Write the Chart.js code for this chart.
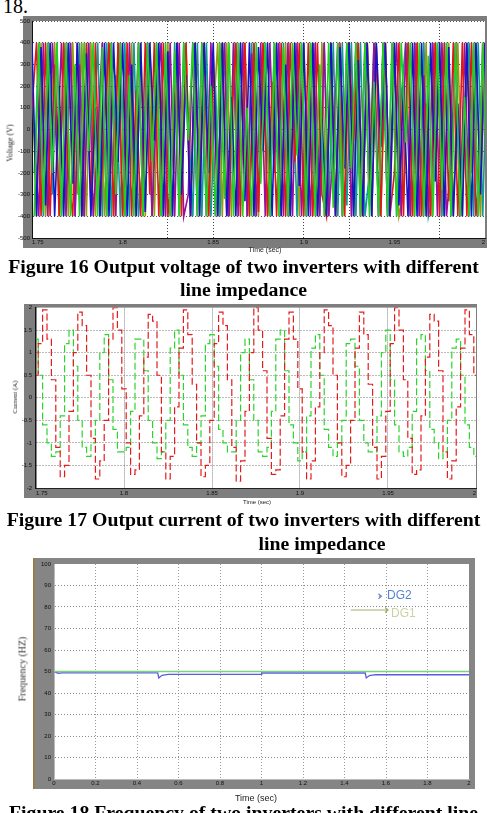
<!DOCTYPE html>
<html>
<head>
<meta charset="utf-8">
<script src="https://cdn.jsdelivr.net/npm/chart.js@4.4.1/dist/chart.umd.min.js"></script>
<style>
  html, body { margin:0; padding:0; background:#fff; }
  body { width:487px; height:813px; position:relative; overflow:hidden; }
  canvas { position:absolute; left:0; }
  .cap { position:absolute; font-family:'Liberation Serif','Times New Roman',serif; font-weight:bold; font-size:19.8px; white-space:nowrap; color:#000; }
  .ax { position:absolute; white-space:nowrap; transform:translate(-50%,-50%); color:#222; }
  .axv { position:absolute; white-space:nowrap; transform:translate(-50%,-50%) rotate(-90deg); color:#222; }
</style>
</head>
<body>
<div style="position:absolute;left:3px;top:-5px;font-family:'Liberation Serif',serif;font-size:20px;line-height:23px;">18.</div>

<canvas id="c1" width="487" height="244" style="top:14px"></canvas>
<div class="axv" style="left:10px;top:143px;font-family:'Liberation Serif',serif;font-size:8px;">Voltage (V)</div>
<div class="ax" style="left:265px;top:249px;font-family:'Liberation Sans',sans-serif;font-size:7px;">Time (sec)</div>
<div class="cap" style="left:0;width:487px;text-align:center;top:255px;line-height:23px;">Figure 16 Output voltage of two inverters with different<br>line impedance</div>

<canvas id="c2" width="487" height="200" style="top:300px"></canvas>
<div class="axv" style="left:15px;top:397px;font-family:'Liberation Serif',serif;font-size:7px;">Current (A)</div>
<div class="ax" style="left:257px;top:502px;font-family:'Liberation Sans',sans-serif;font-size:6px;">Time (sec)</div>
<div class="cap" style="left:0;width:487px;text-align:center;top:507px;line-height:24px;">Figure 17 Output current of two inverters with different</div>
<div class="cap" style="left:322px;transform:translateX(-50%);top:531px;line-height:24px;">line impedance</div>

<canvas id="c3" width="487" height="240" style="top:556px"></canvas>
<div class="axv" style="left:22px;top:669px;font-family:'Liberation Serif',serif;font-size:10px;color:#333;">Frequency (HZ)</div>
<div class="ax" style="left:256px;top:798px;font-family:'Liberation Sans',sans-serif;font-size:9px;">Time (sec)</div>
<div class="cap" style="left:0;width:487px;text-align:center;top:801px;line-height:23px;">Figure 18 Frequency of two inverters with different line</div>

<script>
// ---------------- shared sample times (s) ----------------
const sampleTime = [1.75,1.7525,1.755,1.7575,1.76,1.7625,1.765,1.7675,1.77,1.7725,
  1.775,1.7775,1.78,1.7825,1.785,1.7875,1.79,1.7925,1.795,1.7975,
  1.8,1.8025,1.805,1.8075,1.81,1.8125,1.815,1.8175,1.82,1.8225,
  1.825,1.8275,1.83,1.8325,1.835,1.8375,1.84,1.8425,1.845,1.8475,
  1.85,1.8525,1.855,1.8575,1.86,1.8625,1.865,1.8675,1.87,1.8725,
  1.875,1.8775,1.88,1.8825,1.885,1.8875,1.89,1.8925,1.895,1.8975,
  1.9,1.9025,1.905,1.9075,1.91,1.9125,1.915,1.9175,1.92,1.9225,
  1.925,1.9275,1.93,1.9325,1.935,1.9375,1.94,1.9425,1.945,1.9475,
  1.95,1.9525,1.955,1.9575,1.96,1.9625,1.965,1.9675,1.97,1.9725,
  1.975,1.9775,1.98,1.9825,1.985,1.9875,1.99,1.9925,1.995,1.9975,2.0];
const sampleTimeB = [1.75125,1.75375,1.75625,1.75875,1.76125,1.76375,1.76625,1.76875,1.77125,1.77375,
  1.77625,1.77875,1.78125,1.78375,1.78625,1.78875,1.79125,1.79375,1.79625,1.79875,
  1.80125,1.80375,1.80625,1.80875,1.81125,1.81375,1.81625,1.81875,1.82125,1.82375,
  1.82625,1.82875,1.83125,1.83375,1.83625,1.83875,1.84125,1.84375,1.84625,1.84875,
  1.85125,1.85375,1.85625,1.85875,1.86125,1.86375,1.86625,1.86875,1.87125,1.87375,
  1.87625,1.87875,1.88125,1.88375,1.88625,1.88875,1.89125,1.89375,1.89625,1.89875,
  1.90125,1.90375,1.90625,1.90875,1.91125,1.91375,1.91625,1.91875,1.92125,1.92375,
  1.92625,1.92875,1.93125,1.93375,1.93625,1.93875,1.94125,1.94375,1.94625,1.94875,
  1.95125,1.95375,1.95625,1.95875,1.96125,1.96375,1.96625,1.96875,1.97125,1.97375,
  1.97625,1.97875,1.98125,1.98375,1.98625,1.98875,1.99125,1.99375,1.99625,1.99875,2.00125];

// ---------------- Figure 16 data (voltage, V) ----------------
const voltBlue = [400,-400,380,-350,400,-400,200,-400,400,-250,
  400,-400,350,-400,100,-400,400,-400,400,-150,
  400,-400,300,-400,400,-380,400,-50,400,-400,
  360,-400,400,-300,250,-400,400,-400,400,-200,
  400,-400,400,-400,150,-400,400,-330,400,-400,
  380,-100,400,-400,400,-400,300,-400,400,-260,
  400,-400,400,-400,50,-400,400,-400,380,-180,
  400,-400,320,-400,400,-400,400,-80,400,-400,
  400,-350,200,-400,400,-400,400,-400,400,-240,
  400,-400,380,-400,120,-400,400,-400,400,-300,400];
const voltGreen = [-400,400,-380,400,-200,400,-400,400,-400,300,
  -400,400,-100,400,-400,380,-400,400,-300,400,
  -400,250,-400,400,-400,400,-150,400,-400,400,
  -400,360,-400,400,-50,400,-400,400,-400,200,
  -400,400,-320,400,-400,400,-400,100,-400,400,
  -250,400,-400,400,-400,380,-400,400,-120,400,
  -400,400,-400,300,-400,400,-360,400,-400,400,
  -180,400,-400,400,-400,220,-400,400,-400,400,
  -400,400,-60,400,-400,400,-400,340,-400,400,
  -280,400,-400,400,-400,150,-400,400,-400,400,-400];
const voltRed = [100,400,-400,400,-400,300,-400,400,-200,-400,
  400,-400,400,-350,400,-400,50,400,-400,400,
  -400,400,-400,180,-400,400,-300,400,-400,400,
  -400,-120,400,-400,400,-400,400,-250,400,-400,
  350,-400,400,-400,0,400,-400,400,-400,400,
  -380,400,-400,220,-400,400,-400,400,-150,400,
  -400,400,-400,400,-300,-400,400,-400,400,-400,
  400,-50,400,-400,400,-400,380,-400,400,-400,
  -200,400,-400,400,-400,400,-400,120,-400,400,
  -400,400,-330,400,-400,400,-400,400,-400,-100,400];
const voltTeal = [-200,400,-400,400,-300,400,-400,0,400,-400,
  400,-400,400,-100,400,-400,400,-400,250,-400,
  400,-400,400,-400,-150,400,-400,400,-400,350,
  -400,400,-400,400,50,-400,400,-400,400,-400,
  200,-400,400,-400,400,-280,400,-400,400,-400,
  -50,400,-400,400,-400,400,-400,300,-400,400,
  -400,400,100,-400,400,-400,400,-400,400,-350,
  400,-400,400,-400,-200,400,-400,400,-400,400,
  -400,150,400,-400,400,-400,400,-400,-300,400,
  -400,400,-400,400,-400,0,400,-400,400,-400,400];
const voltPurple = [0,-400,400,-400,400,-150,400,-400,400,-400,
  300,-400,400,-400,-50,400,-400,400,-400,400,
  -400,400,-250,400,-400,400,-400,100,400,-400,
  400,-400,400,-400,-300,400,-400,400,-400,400,
  -400,0,400,-400,400,-400,400,-400,350,-400,
  400,-400,400,-200,400,-400,400,-400,400,-400,
  150,-400,400,-400,400,-400,-100,400,-400,400,
  -400,400,-400,400,-350,400,-400,400,-400,50,
  400,-400,400,-400,400,-400,250,-400,400,-400,
  400,-400,-150,400,-400,400,-400,400,-400,400,-400];
const voltOlive = [300,-400,400,-400,0,400,-400,400,-400,400,
  -300,400,-400,400,-400,200,-400,400,-400,400,
  -400,-100,400,-400,400,-400,400,-400,300,-400,
  400,-400,400,-200,400,-400,400,-400,400,-400,
  50,400,-400,400,-400,400,-350,400,-400,400,
  -400,400,-400,-50,400,-400,400,-400,400,-400,
  400,-250,400,-400,400,-400,400,-400,150,-400,
  400,-400,400,-400,400,-100,400,-400,400,-400,
  400,-400,-300,400,-400,400,-400,400,-400,400,
  0,-400,400,-400,400,-400,400,-200,400,-400,400];
const voltXTicks = [1.75,1.8,1.85,1.9,1.95,2];
const voltGridX = [1.825,1.85,1.9,1.925,1.975];
const voltYTicks = [-500,-400,-300,-200,-100,0,100,200,300,400,500];

// ---------------- Figure 17 data (current, A) ----------------
const curRed = [0.5,1.2,1.95,1.3,0.4,-1.1,-1.75,-1.5,
  -0.3,1.0,1.9,1.6,0.5,-0.9,-1.8,-1.4,
  -0.5,1.3,2.0,1.5,0.2,-1.0,-1.7,-1.6,
  -0.4,0.9,1.85,1.7,0.5,-1.2,-1.8,-1.3,
  -0.2,1.1,1.95,1.4,0.3,-1.0,-1.75,-1.5,
  -0.5,1.2,1.9,1.6,0.4,-1.1,-1.85,-1.4,
  -0.3,1.0,2.0,1.5,0.6,-0.9,-1.7,-1.6,
  -0.4,1.3,1.9,1.3,0.2,-1.2,-1.8,-1.4,
  -0.2,1.0,1.95,1.6,0.5,-1.0,-1.75,-1.5,
  -0.5,1.1,1.9,1.4,0.3,-1.1,-1.8,-1.3,
  -0.3,1.2,2.0,1.5,0.4,-0.9,-1.7,-1.6,
  -0.4,0.9,1.85,1.7,0.6,-1.2,-1.8,-1.4,
  -0.2,1.1,1.95,1.4,0.5];
const curGreen = [1.3,0.5,-0.6,-1.0,-1.3,-1.2,-0.4,1.2,
  1.5,0.7,-0.5,-1.1,-1.3,-1.0,-0.5,1.0,
  1.4,0.4,-0.7,-1.2,-1.2,-1.1,-0.3,1.3,
  1.3,0.6,-0.5,-1.0,-1.35,-1.2,-0.5,1.1,
  1.5,0.5,-0.6,-1.1,-1.3,-1.0,-0.4,1.2,
  1.4,0.7,-0.7,-1.0,-1.2,-1.2,-0.5,1.0,
  1.3,0.4,-0.5,-1.2,-1.3,-1.1,-0.3,1.3,
  1.5,0.6,-0.6,-1.0,-1.4,-1.2,-0.4,1.1,
  1.4,0.5,-0.7,-1.1,-1.3,-1.0,-0.5,1.2,
  1.3,0.7,-0.5,-1.0,-1.2,-1.2,-0.4,1.0,
  1.5,0.4,-0.6,-1.2,-1.3,-1.1,-0.3,1.3,
  1.4,0.6,-0.7,-1.0,-1.35,-1.2,-0.5,1.1,
  1.3,0.5,-0.6,-1.1,-1.3];
const curXTicks = [1.75,1.8,1.85,1.9,1.95,2];
const curYTicks = [-2,-1.5,-1,-0.5,0,0.5,1,1.5,2];

// ---------------- Figure 18 data (frequency, Hz) ----------------
const freqTimeDG1 = [0,2];
const freqDG1 = [50,50];
const freqTimeDG2 = [0,0.02,0.04,0.5,0.505,0.52,0.55,1.0,1.001,1.5,1.505,1.52,1.55,2.0];
const freqDG2 = [50,49.2,49.4,49.4,47.0,48.2,48.7,48.7,49.3,49.3,47.0,48.1,48.5,48.5];
const freqXTicks = [0,0.2,0.4,0.6,0.8,1,1.2,1.4,1.6,1.8,2];
const freqYTicks = [0,10,20,30,40,50,60,70,80,90,100];
const freqLegendLabels = ['DG2','DG1'];

// ---------------- helpers ----------------
Chart.defaults.font.family = "'Liberation Sans', Arial, sans-serif";
const pts = (xs, ys) => ys.map((y, i) => ({x: xs[i], y}));
const key = v => Number(v).toFixed(4);

const framePlugin = {
  id: 'frame',
  beforeDraw(chart, args, o) {
    const ctx = chart.ctx, a = chart.chartArea;
    ctx.save();
    ctx.fillStyle = o.color;
    ctx.fillRect(o.left, o.top, o.right - o.left, o.bottom - o.top);
    ctx.fillStyle = '#ffffff';
    ctx.fillRect(a.left, a.top, a.right - a.left, a.bottom - a.top);
    if (o.edge) { ctx.fillStyle = o.edge; ctx.fillRect(o.left, o.top, 1.5, o.bottom - o.top); }
    ctx.restore();
  }
};

const noteLegend = {
  id: 'noteLegend',
  afterDatasetsDraw(chart, args, o) {
    if (!o.items) return;
    const ctx = chart.ctx, xs = chart.scales.x, ys = chart.scales.y;
    ctx.save();
    o.items.forEach(it => {
      const tx = xs.getPixelForValue(it.textX), ty = ys.getPixelForValue(it.textY);
      ctx.font = o.font;
      ctx.fillStyle = it.textColor;
      ctx.textBaseline = 'alphabetic';
      ctx.fillText(it.label, tx, ty);
      ctx.strokeStyle = it.arrowColor;
      ctx.lineWidth = 1.2;
      const x1 = xs.getPixelForValue(it.fromX), x2 = xs.getPixelForValue(it.toX), y = ys.getPixelForValue(it.arrowY);
      ctx.beginPath();
      ctx.moveTo(x1, y); ctx.lineTo(x2, y);
      ctx.moveTo(x2 - 3, y - 2.5); ctx.lineTo(x2, y); ctx.lineTo(x2 - 3, y + 2.5);
      ctx.stroke();
    });
    ctx.restore();
  }
};

function fixW(w) { return s => { s.width = w; }; }
function fixH(h) { return s => { s.height = h; }; }
function setTicks(arr) { return s => { s.ticks = arr.map(v => ({value: v})); }; }

const lineDs = (label, data, color, w, extra) => Object.assign({
  label, data, borderColor: color, backgroundColor: color, borderWidth: w,
  pointRadius: 0, fill: false, tension: 0
}, extra || {});

const base = {
  responsive: false, animation: false, devicePixelRatio: 1,
  plugins: { legend: {display: false}, tooltip: {enabled: false}, title: {display: false} },
  events: []
};

// ---------------- Figure 16 ----------------
const voltAllX = Array.from(new Set(voltXTicks.concat(voltGridX).map(key))).map(Number).sort((a,b)=>a-b);
new Chart(document.getElementById('c1'), {
  type: 'line',
  data: { datasets: [
    lineDs('Phase a2', pts(sampleTimeB, voltGreen), '#22d022', 1.6),
    lineDs('Phase a1', pts(sampleTime, voltBlue), '#1414c8', 1.6),
    lineDs('Phase b1', pts(sampleTime, voltRed), '#e01818', 1.6),
    lineDs('Phase b2', pts(sampleTimeB, voltPurple), '#9a109a', 1.6),
    lineDs('Phase c1', pts(sampleTime, voltOlive), '#9a9a10', 1.6),
    lineDs('Phase c2', pts(sampleTimeB, voltTeal), '#109a9a', 1.6)
  ]},
  options: Object.assign({}, base, {
    layout: { padding: {top: 7, right: 2, left: 0, bottom: 0} },
    plugins: Object.assign({}, base.plugins, { frame: {color: '#7c7c7c', left: 23, top: 2, right: 487, bottom: 234} }),
    scales: {
      x: { type: 'linear', min: 1.75, max: 2, afterFit: fixH(20), afterBuildTicks: setTicks(voltAllX),
        grid: { drawTicks: false, color: c => voltGridX.map(key).includes(key(c.tick.value)) ? '#444' : 'rgba(0,0,0,0)', lineWidth: 1 },
        border: { display: true, color: '#111', width: 1, dash: [1, 2] },
        ticks: { autoSkip: false, maxRotation: 0, align: 'inner', padding: 1, color: '#111', font: {size: 6},
          callback: v => voltXTicks.map(key).includes(key(v)) ? String(v) : '' } },
      y: { type: 'linear', min: -500, max: 500, afterFit: fixW(32), afterBuildTicks: setTicks(voltYTicks),
        grid: { drawTicks: false, color: '#555', lineWidth: 1 },
        border: { display: true, color: '#111', width: 1, dash: [1, 2] },
        ticks: { autoSkip: false, padding: 2, color: '#111', font: {size: 6}, callback: v => String(v) } }
    }
  }),
  plugins: [framePlugin]
});

// ---------------- Figure 17 ----------------
new Chart(document.getElementById('c2'), {
  type: 'line',
  data: { datasets: [
    lineDs('Inverter 1', pts(sampleTime, curRed), '#e41c1c', 1.2, {stepped: 'middle', borderDash: [7, 3]}),
    lineDs('Inverter 2', pts(sampleTime, curGreen), '#2ed42e', 1.2, {stepped: 'middle', borderDash: [7, 3]})
  ]},
  options: Object.assign({}, base, {
    layout: { padding: {top: 5, right: 11, left: 0, bottom: 0} },
    plugins: Object.assign({}, base.plugins, { frame: {color: '#7e7e7e', left: 24, top: 4, right: 477, bottom: 198} }),
    scales: {
      x: { type: 'linear', min: 1.75, max: 2, afterFit: fixH(12), afterBuildTicks: setTicks(curXTicks),
        grid: { drawTicks: false, color: c => (c.index === 0 || c.index === curXTicks.length - 1) ? 'rgba(0,0,0,0)' : '#888', lineWidth: 1 },
        border: { display: true, color: '#222', width: 1, dash: [1, 1] },
        ticks: { autoSkip: false, maxRotation: 0, align: 'inner', padding: 2, color: '#111', font: {size: 6}, callback: v => String(v) } },
      y: { type: 'linear', min: -2, max: 2, afterFit: fixW(36), afterBuildTicks: setTicks(curYTicks),
        grid: { drawTicks: false, color: c => (c.index === 0 || c.index === curYTicks.length - 1) ? 'rgba(0,0,0,0)' : '#777', lineWidth: 1 },
        border: { display: true, color: '#111', width: 1.5, dash: [1, 2] },
        ticks: { autoSkip: false, padding: 4, color: '#111', font: {size: 6}, callback: v => String(v) } }
    }
  }),
  plugins: [framePlugin]
});

// ---------------- Figure 18 ----------------
new Chart(document.getElementById('c3'), {
  type: 'line',
  data: { datasets: [
    lineDs(freqLegendLabels[1], pts(freqTimeDG1, freqDG1), '#7ad27a', 1.3),
    lineDs(freqLegendLabels[0], pts(freqTimeDG2, freqDG2), '#5a5ae0', 1.3)
  ]},
  options: Object.assign({}, base, {
    layout: { padding: {top: 8, right: 18, left: 0, bottom: 0} },
    plugins: Object.assign({}, base.plugins, {
      frame: {color: '#858585', left: 33, top: 2, right: 475, bottom: 233, edge: '#a07838'},
      noteLegend: { font: "12px 'Liberation Sans', Arial, sans-serif", items: [
        {label: freqLegendLabels[0], textX: 1.605, textY: 83.6, textColor: '#5585d0', arrowColor: '#6a8ad0', fromX: 1.566, toX: 1.578, arrowY: 85.0},
        {label: freqLegendLabels[1], textX: 1.624, textY: 75.3, textColor: '#c9d3a2', arrowColor: '#9db06e', fromX: 1.43, toX: 1.61, arrowY: 78.6}
      ]}
    }),
    scales: {
      x: { type: 'linear', min: 0, max: 2, afterFit: fixH(17), afterBuildTicks: setTicks(freqXTicks),
        grid: { drawTicks: false, color: c => (c.index === 0 || c.index === freqXTicks.length - 1) ? 'rgba(0,0,0,0)' : '#9a9a9a', lineWidth: 1 },
        border: { display: true, color: '#bbb', width: 1, dash: [1, 2] },
        ticks: { autoSkip: false, maxRotation: 0, padding: 1, color: '#111', font: {size: 6}, callback: v => String(v) } },
      y: { type: 'linear', min: 0, max: 100, afterFit: fixW(54), afterBuildTicks: setTicks(freqYTicks),
        grid: { drawTicks: false, color: c => (c.index === 0 || c.index === freqYTicks.length - 1) ? 'rgba(0,0,0,0)' : '#8a8a8a', lineWidth: 1 },
        border: { display: true, color: '#bbb', width: 1, dash: [1, 2] },
        ticks: { autoSkip: false, padding: 3, color: '#111', font: {size: 6}, callback: v => String(v) } }
    }
  }),
  plugins: [framePlugin, noteLegend]
});
</script>
</body>
</html>
